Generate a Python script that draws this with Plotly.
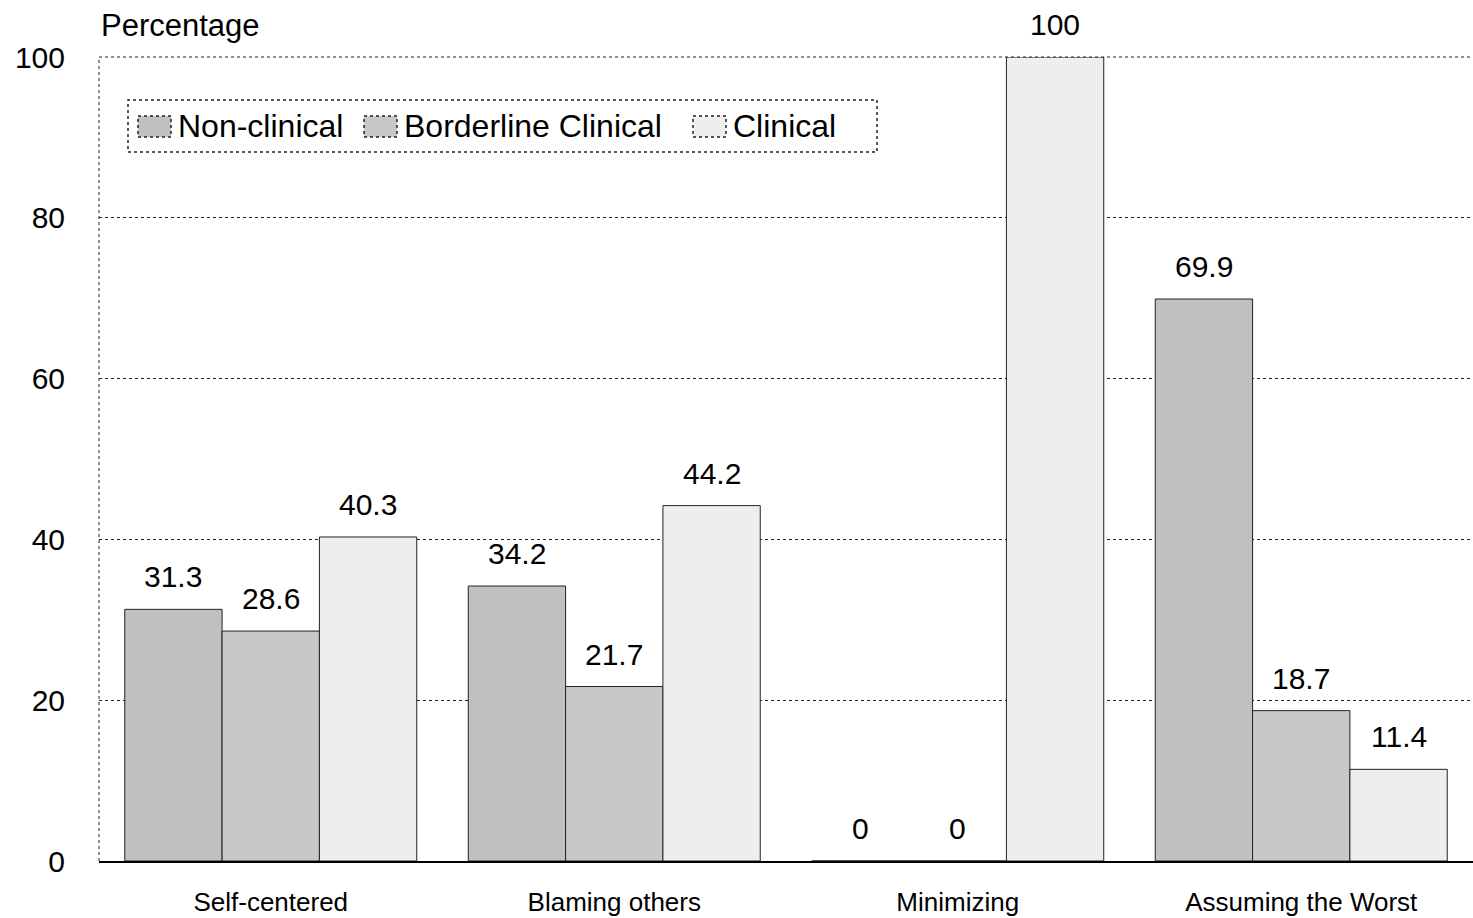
import plotly.graph_objects as go

categories = ["Self-centered", "Blaming others", "Minimizing", "Assuming the Worst"]
non_clinical = [31.3, 34.2, 0, 69.9]
borderline_clinical = [28.6, 21.7, 0, 18.7]
clinical = [40.3, 44.2, 100, 11.4]

series_names = ["Non-clinical", "Borderline Clinical", "Clinical"]
series_values = [non_clinical, borderline_clinical, clinical]
series_colors = ["#c0c0c0", "#c8c8c8", "#eeeeee"]

FONT = "Liberation Sans, Arial, sans-serif"
EDGE = "#222222"

# plot-area geometry (px)
W, H = 1473, 918
ML, MR, MT, MB = 99, 0, 57, 57
PW, PH = W - ML - MR, H - MT - MB
BARGAP = 0.15
bar_px = PW / len(categories) * (1 - BARGAP) / len(series_names)

fig = go.Figure()
for name, vals, color in zip(series_names, series_values, series_colors):
    fig.add_trace(go.Bar(
        name=name,
        x=categories,
        y=vals,
        marker=dict(color=color, line=dict(color=EDGE, width=1)),
        showlegend=False,
    ))

# value labels above each bar
annotations = []
for k, vals in enumerate(series_values):
    offset = (k - (len(series_values) - 1) / 2) * bar_px
    for cat, v in zip(categories, vals):
        annotations.append(dict(
            x=cat, y=v, xref="x", yref="y", text=f"{v:g}",
            showarrow=False, xanchor="center", yanchor="bottom",
            xshift=offset, yshift=14,
            font=dict(size=30, family=FONT, color="black"),
        ))

annotations.append(dict(
    text="Percentage", xref="paper", yref="paper", x=0, y=1,
    xanchor="left", yanchor="middle", yshift=32, showarrow=False,
    font=dict(size=31, family=FONT, color="black"),
))

# frame lines (dotted left and top edges)
shapes = [
    dict(type="line", xref="paper", yref="paper", x0=0, x1=0, y0=0, y1=1,
         line=dict(color=EDGE, width=1, dash="dot")),
    dict(type="line", xref="paper", yref="paper", x0=0, x1=1, y0=1, y1=1,
         line=dict(color=EDGE, width=1, dash="dot")),
]

# legend box with swatches, in pixel positions converted to paper coords
def px_x(x):
    return (x - ML) / PW

def px_y(y):
    return (H - MB - y) / PH

shapes.append(dict(type="rect", xref="paper", yref="paper",
                   x0=px_x(128), x1=px_x(877), y0=px_y(152), y1=px_y(100),
                   line=dict(color=EDGE, width=1.5, dash="dot"),
                   fillcolor="white", layer="above"))
swatch_x = [138, 364, 693]
for sx, name, color in zip(swatch_x, series_names, series_colors):
    shapes.append(dict(type="rect", xref="paper", yref="paper",
                       x0=px_x(sx), x1=px_x(sx + 33), y0=px_y(137), y1=px_y(116),
                       line=dict(color=EDGE, width=1.5, dash="dot"),
                       fillcolor=color, layer="above"))
    annotations.append(dict(
        text=name, xref="paper", yref="paper", x=px_x(sx + 38), y=px_y(126),
        xanchor="left", yanchor="middle", showarrow=False,
        font=dict(size=32, family=FONT, color="black"),
    ))

fig.update_layout(
    width=W, height=H,
    margin=dict(l=ML, r=MR, t=MT, b=MB),
    paper_bgcolor="white", plot_bgcolor="white",
    barmode="group", bargap=BARGAP, bargroupgap=0,
    font=dict(family=FONT, color="black"),
    showlegend=False,
    xaxis=dict(
        showline=True, linecolor="black", linewidth=2,
        tickfont=dict(size=26, family=FONT),
        ticks="", showgrid=False,
        ticklabelstandoff=17,
    ),
    yaxis=dict(
        range=[0, 100], dtick=20,
        showgrid=True, gridcolor=EDGE, gridwidth=1, griddash="dot",
        tickfont=dict(size=30, family=FONT),
        ticklabelstandoff=33,
        zeroline=False, showline=False,
    ),
    shapes=shapes,
    annotations=annotations,
)

fig.write_html("out.html")
